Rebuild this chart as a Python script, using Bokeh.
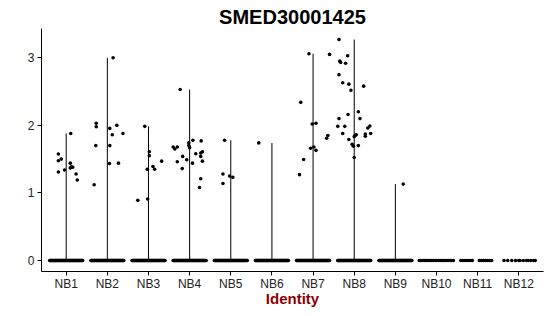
import numpy as np
from bokeh.plotting import figure
from bokeh.models import Range1d, FixedTicker
from bokeh.embed import file_html
from bokeh.resources import INLINE

title = "SMED30001425"
clusters = ["NB1", "NB2", "NB3", "NB4", "NB5", "NB6", "NB7", "NB8", "NB9", "NB10", "NB11", "NB12"]

# non-zero expression values per cluster
vals = {
    "NB1": [1.88, 1.575, 1.50, 1.475, 1.44, 1.38, 1.385, 1.37, 1.34, 1.31, 1.28, 1.19],
    "NB2": [3.00, 2.03, 1.98, 2.00, 1.955, 1.86, 1.88, 1.70, 1.70, 1.435, 1.44, 1.12],
    "NB3": [1.985, 1.61, 1.55, 1.47, 1.35, 1.39, 1.35, 0.89, 0.91],
    "NB4": [2.53, 1.78, 1.77, 1.74, 1.70, 1.67, 1.68, 1.68, 1.65, 1.58, 1.59, 1.61, 1.54,
            1.54, 1.49, 1.46, 1.44, 1.47, 1.36, 1.21, 1.08],
    "NB5": [1.78, 1.28, 1.25, 1.23, 1.14],
    "NB6": [1.74],
    "NB7": [3.06, 3.05, 2.34, 2.02, 2.03, 1.85, 1.81, 1.66, 1.68, 1.63, 1.495, 1.27],
    "NB8": [3.27, 3.03, 2.95, 2.93, 2.92, 2.75, 2.63, 2.61, 2.52, 2.58, 2.20, 2.16, 2.10,
            2.10, 1.985, 1.985, 1.99, 1.96, 1.88, 1.88, 1.87, 1.84, 1.85, 1.86, 1.83,
            1.79, 1.72, 1.69, 1.70, 1.525],
    "NB9": [1.13],
    "NB10": [], "NB11": [], "NB12": [],
}
# horizontal jitter of those points (in category widths)
jit = {
    "NB1": [0.11, -0.19, -0.12, -0.19, 0.10, 0.16, 0.13, 0.10, -0.04, -0.19, 0.24, 0.27],
    "NB2": [0.14, -0.27, -0.27, 0.23, 0.06, 0.12, 0.38, -0.28, 0.06, 0.05, 0.27, -0.32],
    "NB3": [-0.09, 0.02, 0.02, 0.32, -0.03, 0.11, 0.15, -0.26, -0.02],
    "NB4": [-0.23, 0.08, 0.28, -0.02, -0.02, 0.0, -0.40, -0.30, -0.36, 0.15, 0.27, 0.31,
            0.27, -0.17, -0.07, -0.30, 0.07, 0.31, -0.18, 0.27, 0.24],
    "NB5": [-0.15, -0.19, -0.03, 0.05, -0.19],
    "NB6": [-0.32],
    "NB7": [-0.10, 0.40, -0.30, -0.02, 0.07, 0.36, 0.33, -0.06, 0.02, 0.07, -0.23, -0.33],
    "NB8": [-0.37, -0.16, -0.35, -0.33, -0.21, -0.37, -0.28, -0.13, -0.08, 0.23, 0.10,
            -0.15, -0.37, 0.14, -0.40, -0.23, 0.38, 0.33, -0.28, 0.40, 0.27, 0.27, 0.02,
            0.05, 0.0, -0.13, -0.05, -0.02, 0.10, 0.0],
    "NB9": [0.19],
    "NB10": [], "NB11": [], "NB12": [],
}
# cells with zero expression: dense clusters (drawn as a band) and sparse ones (explicit jitter)
dense_zero = ["NB1", "NB2", "NB3", "NB4", "NB5", "NB6", "NB7", "NB8", "NB9"]
zero_jit = {
    "NB10": [-0.42, -0.38, -0.34, -0.30, -0.27, -0.23, -0.19, -0.15, -0.11, -0.07, -0.03,
             0.01, 0.05, 0.09, 0.13, 0.17, 0.21, 0.25, 0.29, 0.33, 0.37, 0.41],
    "NB11": [-0.41, -0.36, -0.31, -0.26, -0.21, -0.16, -0.13, 0.04, 0.09, 0.14, 0.19,
             0.24, 0.29, 0.34],
    "NB12": [-0.36, -0.27, -0.17, -0.08, 0.0, 0.03, 0.11, 0.19, 0.23, 0.29, 0.36, 0.40],
}

p = figure(width=550, height=316, output_backend="svg", toolbar_location=None,
           x_range=Range1d(0.4, 12.6), y_range=Range1d(-0.1635, 3.4335),
           min_border_left=41, min_border_right=7, min_border_top=28, min_border_bottom=45,
           title=title)
p.title.text_font = "Liberation Sans"
p.title.text_font_size = "20px"
p.title.text_font_style = "bold"
p.title.align = "center"
p.title.text_color = "black"
p.title.standoff = 2
p.title.offset = 0
p.outline_line_color = None
p.background_fill_color = "white"
p.border_fill_color = "white"
p.xgrid.visible = False
p.ygrid.visible = False

xs, ys = [], []
seg_x, seg_top = [], []
for i, c in enumerate(clusters):
    cx = i + 1
    v = vals[c]
    for val, j in zip(v, jit[c]):
        xs.append(cx + j)
        ys.append(val)
    if c in dense_zero:
        for j in np.linspace(-0.4, 0.4, 70):
            xs.append(cx + j)
            ys.append(0.0)
    else:
        for j in zero_jit[c]:
            xs.append(cx + j)
            ys.append(0.0)
    if len(v):
        seg_x.append(cx)
        seg_top.append(max(v))

p.segment(x0=seg_x, y0=[0] * len(seg_x), x1=seg_x, y1=seg_top, line_color="black", line_width=1)
p.scatter(x=xs, y=ys, size=3.6, color="black", line_width=0)

for ax in (p.xaxis[0], p.yaxis[0]):
    ax.axis_line_color = "black"
    ax.axis_line_width = 1
    ax.major_tick_line_color = "black"
    ax.major_tick_out = 4
    ax.major_tick_in = 0
    ax.minor_tick_line_color = None
    ax.major_label_text_font = "Liberation Sans"
    ax.major_label_text_font_size = "12px"
    ax.major_label_text_color = "#222222"
    ax.major_label_standoff = 3

p.xaxis.major_label_standoff = 1
p.xaxis.ticker = FixedTicker(ticks=list(range(1, 13)))
p.xaxis.major_label_overrides = {i + 1: c for i, c in enumerate(clusters)}
p.yaxis.ticker = FixedTicker(ticks=[0, 1, 2, 3])
p.xaxis.axis_label = "Identity"
p.xaxis.axis_label_text_font = "Liberation Sans"
p.xaxis.axis_label_text_font_size = "15px"
p.xaxis.axis_label_text_font_style = "bold"
p.xaxis.axis_label_text_color = "#8B0000"
p.xaxis.axis_label_standoff = -4

open("out.html", "w").write(file_html(p, INLINE))
